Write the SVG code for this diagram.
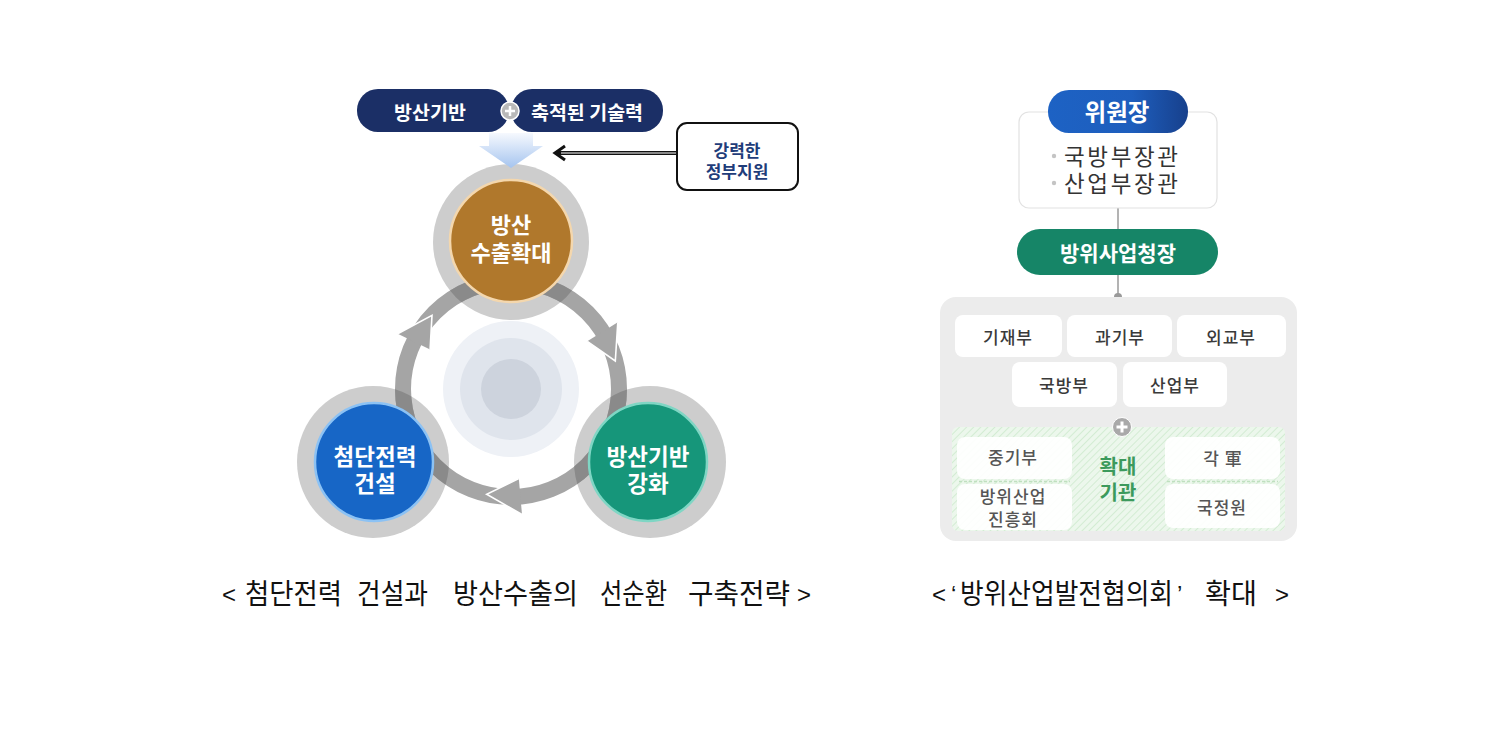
<svg xmlns="http://www.w3.org/2000/svg" width="1488" height="741" viewBox="0 0 1488 741">
<defs>
<style>
.kr{font-family:'Noto Sans CJK KR','Noto Sans CJK SC',sans-serif;}
.la{font-family:'Liberation Sans',Arial,sans-serif;}
.wt{fill:#fff;font-weight:700;text-anchor:middle;dominant-baseline:central;}
.bx{fill:#fff;}
.gt{fill:#3a3a3a;font-weight:500;text-anchor:middle;dominant-baseline:central;font-size:17px;letter-spacing:1px;}
.gt2{fill:#555;font-weight:500;text-anchor:middle;dominant-baseline:central;font-size:17px;letter-spacing:1px;}
.cap{fill:#111;font-size:28px;font-weight:400;}
.ah{fill:#a5a5a5;}
.ahe{fill:none;stroke:#fff;stroke-width:1.6;}
</style>
<linearGradient id="chev" x1="0" y1="0" x2="0" y2="1"><stop offset="0" stop-color="#f6f9fe"/><stop offset="1" stop-color="#a5c4ef"/></linearGradient>
<linearGradient id="blueP" x1="0" y1="0" x2="1" y2="0"><stop offset="0" stop-color="#1d62c4"/><stop offset="0.6" stop-color="#1e5ebd"/><stop offset="1" stop-color="#17408c"/></linearGradient>
<pattern id="hatch" width="5" height="5" patternUnits="userSpaceOnUse" patternTransform="rotate(45)"><rect width="5" height="5" fill="#ecf7ec"/><line x1="0" y1="0" x2="0" y2="5" stroke="#d3ecd3" stroke-width="2"/></pattern>
<clipPath id="outerClip"><circle cx="511" cy="242" r="78"/><circle cx="373" cy="462" r="76"/><circle cx="650" cy="462" r="76"/></clipPath>
</defs>
<rect width="1488" height="741" fill="#fff"/>

<!-- LEFT DIAGRAM -->
<g id="center-deco">
<circle cx="511" cy="389" r="68" fill="#eef1f6"/>
<circle cx="511" cy="389" r="51" fill="#dfe4ec"/>
<circle cx="511" cy="389" r="30" fill="#cdd3dd"/>
</g>
<g id="outer-rings">
<circle cx="511" cy="242" r="78" fill="#cdcdcd"/>
<circle cx="373" cy="462" r="76" fill="#cdcdcd"/>
<circle cx="650" cy="462" r="76" fill="#cdcdcd"/>
</g>
<g id="connectors">
<circle cx="511" cy="389" r="108" fill="none" stroke="#a5a5a5" stroke-width="16"/>
<circle cx="511" cy="389" r="108" fill="none" stroke="#8a8a8a" stroke-width="16" clip-path="url(#outerClip)"/>
<polygon class="ah" points="587.3,341.3 617.8,322.2 615.3,361"/>
<polyline class="ahe" points="617.8,322.2 615.3,361 587.3,341.3"/>
<polygon class="ah" points="518.8,478.6 522,514.5 486.7,494.2"/>
<polyline class="ahe" points="522,514.5 486.7,494.2 518.8,478.6"/>
<polygon class="ah" points="430.1,349.6 397.7,333.8 432,315.3"/>
<polyline class="ahe" points="397.7,333.8 432,315.3 430.1,349.6"/>
<polygon points="489,133 533,133 533,146 543,146 511,168 479,146 489,146" fill="url(#chev)"/>
<line x1="676" y1="153" x2="557" y2="153" stroke="#111" stroke-width="4"/>
<line x1="676" y1="153" x2="561" y2="153" stroke="#fff" stroke-width="1.2"/>
<polyline points="565,146 555,153 565,160" fill="none" stroke="#111" stroke-width="3"/>
</g>
<g id="pill-base">
<rect x="357" y="89" width="152" height="43" rx="21" fill="#1b2f66"/>
<text class="kr wt" x="430" y="111" font-size="19.5">방산기반</text>
</g>
<g id="pill-tech">
<rect x="511" y="89" width="152" height="43" rx="21" fill="#1b2f66"/>
<text class="kr wt" x="587" y="111" font-size="19.5">축적된 기술력</text>
</g>
<g id="plus-top">
<circle cx="510" cy="111" r="9" fill="#b9b9b9" stroke="#fff" stroke-width="1.5"/>
<path d="M505,111h10M510,106v10" stroke="#fff" stroke-width="2.5"/>
</g>
<g id="gov-box">
<rect x="677" y="123" width="121" height="67" rx="10" fill="#fff" stroke="#111" stroke-width="2"/>
<text class="kr" x="737" y="149" font-size="17" font-weight="700" fill="#1f3d7a" text-anchor="middle" dominant-baseline="central">강력한</text>
<text class="kr" x="737" y="170" font-size="17" font-weight="700" fill="#1f3d7a" text-anchor="middle" dominant-baseline="central">정부지원</text>
</g>
<g id="node-export">
<circle cx="511" cy="241" r="61" fill="#b0782c" stroke="#f4d7ad" stroke-width="2.5"/>
<text class="kr wt" x="511" y="223" font-size="22">방산</text>
<text class="kr wt" x="511" y="251" font-size="22">수출확대</text>
</g>
<g id="node-force">
<circle cx="374" cy="462" r="59" fill="#1766c6" stroke="#8cc2f4" stroke-width="2.5"/>
<text class="kr wt" x="375" y="455" font-size="22.5">첨단전력</text>
<text class="kr wt" x="375" y="482" font-size="22.5">건설</text>
</g>
<g id="node-base">
<circle cx="648" cy="462" r="59" fill="#16967a" stroke="#7fd6c4" stroke-width="2.5"/>
<text class="kr wt" x="648" y="455" font-size="22.5">방산기반</text>
<text class="kr wt" x="648" y="482" font-size="22.5">강화</text>
</g>
<g id="caption-left" class="kr cap">
<text class="la" x="222" y="603" font-size="24">&lt;</text>
<text x="245" y="604" textLength="97" lengthAdjust="spacingAndGlyphs">첨단전력</text>
<text x="357" y="604" textLength="71" lengthAdjust="spacingAndGlyphs">건설과</text>
<text x="453" y="604" textLength="125" lengthAdjust="spacingAndGlyphs">방산수출의</text>
<text x="600" y="604" textLength="67" lengthAdjust="spacingAndGlyphs">선순환</text>
<text x="688" y="604" textLength="102" lengthAdjust="spacingAndGlyphs">구축전략</text>
<text class="la" x="797" y="603" font-size="24">&gt;</text>
</g>

<!-- RIGHT DIAGRAM -->
<g id="right-connectors">
<line x1="1118" y1="208" x2="1118" y2="230" stroke="#9a9a9a" stroke-width="1.5"/>
<line x1="1118" y1="275" x2="1118" y2="297" stroke="#9a9a9a" stroke-width="1.5"/>
<circle cx="1118" cy="297" r="4" fill="#9a9a9a"/>
</g>
<g id="chair-box">
<rect x="1019" y="112" width="198" height="96" rx="10" fill="#fff" stroke="#e2e2e2" stroke-width="1.2"/>
<circle cx="1054" cy="156" r="2.2" fill="#c4c4c4"/>
<circle cx="1054" cy="183" r="2.2" fill="#c4c4c4"/>
<text class="kr" x="1064" y="155" font-size="22.5" fill="#333" dominant-baseline="central" textLength="114" lengthAdjust="spacing">국방부장관</text>
<text class="kr" x="1064" y="182" font-size="22.5" fill="#333" dominant-baseline="central" textLength="114" lengthAdjust="spacing">산업부장관</text>
</g>
<g id="chair-pill">
<rect x="1048" y="90" width="140" height="43" rx="21" fill="url(#blueP)"/>
<text class="kr wt" x="1117" y="111" font-size="23.5">위원장</text>
</g>
<g id="dapa-pill">
<rect x="1017" y="229" width="201" height="46" rx="23" fill="#168567"/>
<text class="kr wt" x="1118" y="252" font-size="21">방위사업청장</text>
</g>
<g id="member-panel">
<rect x="940" y="297" width="357" height="244" rx="16" fill="#ececec"/>
<rect x="952" y="427" width="333" height="104" rx="6" fill="url(#hatch)"/>
</g>
<g id="n-moef"><rect class="bx" x="955" y="315" width="107" height="42" rx="8"/><text class="kr gt" x="1008" y="336">기재부</text></g>
<g id="n-msit"><rect class="bx" x="1067" y="315" width="105" height="42" rx="8"/><text class="kr gt" x="1120" y="336">과기부</text></g>
<g id="n-mofa"><rect class="bx" x="1177" y="315" width="109" height="42" rx="8"/><text class="kr gt" x="1231" y="336">외교부</text></g>
<g id="n-mnd"><rect class="bx" x="1012" y="362" width="105" height="45" rx="8"/><text class="kr gt" x="1064" y="384">국방부</text></g>
<g id="n-motie"><rect class="bx" x="1123" y="362" width="104" height="45" rx="8"/><text class="kr gt" x="1175" y="384">산업부</text></g>
<g id="plus-right">
<circle cx="1122" cy="427" r="9.5" fill="#a9a9a9" stroke="#fff" stroke-width="1"/>
<path d="M1116.5,427h11M1122,421.5v11" stroke="#fff" stroke-width="3"/>
</g>
<g id="n-mss"><rect class="bx" x="957" y="437" width="115" height="42" rx="8" opacity="0.92"/><text class="kr gt2" x="1013" y="456">중기부</text></g>
<g id="n-kdia"><rect class="bx" x="957" y="484" width="115" height="46" rx="8" opacity="0.92"/><text class="kr gt2" x="1013" y="495">방위산업</text><text class="kr gt2" x="1013" y="518">진흥회</text></g>
<g id="n-army"><rect class="bx" x="1165" y="437" width="115" height="42" rx="8" opacity="0.92"/><text class="kr gt2" x="1223" y="457">각 軍</text></g>
<g id="n-nis"><rect class="bx" x="1165" y="484" width="115" height="44" rx="8" opacity="0.92"/><text class="kr gt2" x="1222" y="506">국정원</text></g>
<g id="dividers">
<line x1="959" y1="481.5" x2="1070" y2="481.5" stroke="#bfe0bf" stroke-width="1.5" stroke-dasharray="3 2"/>
<line x1="1167" y1="481.5" x2="1278" y2="481.5" stroke="#bfe0bf" stroke-width="1.5" stroke-dasharray="3 2"/>
</g>
<g id="expand-label">
<text class="kr" x="1118" y="465" font-size="20" font-weight="700" fill="#3c9a5c" text-anchor="middle" dominant-baseline="central">확대</text>
<text class="kr" x="1118" y="491" font-size="20" font-weight="700" fill="#3c9a5c" text-anchor="middle" dominant-baseline="central">기관</text>
</g>
<g id="caption-right" class="kr cap">
<text class="la" x="932" y="603" font-size="24">&lt;</text>
<text class="la" x="951" y="603" font-size="24">‘</text>
<text x="960" y="604" textLength="213" lengthAdjust="spacingAndGlyphs">방위산업발전협의회</text>
<text class="la" x="1177" y="603" font-size="24">’</text>
<text x="1205" y="604" textLength="52" lengthAdjust="spacingAndGlyphs">확대</text>
<text class="la" x="1275" y="603" font-size="24">&gt;</text>
</g>
</svg>
